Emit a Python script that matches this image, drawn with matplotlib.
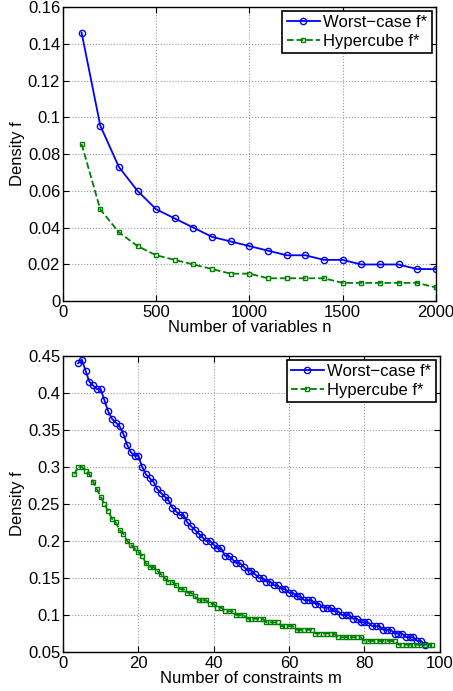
import matplotlib
matplotlib.use("Agg")
from matplotlib import pyplot as plt
import numpy as np

plt.rcParams['font.family'] = ['Liberation Sans', 'DejaVu Sans']
plt.rcParams['font.size'] = 12

# top panel: density vs number of variables
n_vals = list(range(100, 2001, 100))
worst_n = [0.146, 0.0955, 0.073, 0.060, 0.050, 0.045, 0.040, 0.035, 0.0325, 0.030,
           0.0275, 0.025, 0.025, 0.0225, 0.0225, 0.020, 0.020, 0.020, 0.0175, 0.0175]
cube_n = [0.0855, 0.050, 0.0375, 0.030, 0.025, 0.0225, 0.020, 0.0175, 0.015, 0.015,
          0.0125, 0.0125, 0.0125, 0.0125, 0.010, 0.010, 0.010, 0.010, 0.010, 0.0075]

# bottom panel: density vs number of constraints
m_worst = list(range(4, 97))
worst_m = [0.44, 0.445, 0.43, 0.415, 0.41, 0.405, 0.405, 0.39, 0.375, 0.365,
           0.36, 0.355, 0.345, 0.33, 0.32, 0.315, 0.315, 0.30, 0.29, 0.285,
           0.28, 0.27, 0.265, 0.26, 0.255, 0.245, 0.24, 0.235, 0.235, 0.225,
           0.22, 0.215, 0.21, 0.205, 0.20, 0.20, 0.195, 0.19, 0.19, 0.18,
           0.18, 0.175, 0.17, 0.17, 0.165, 0.16, 0.16, 0.155, 0.15, 0.15,
           0.145, 0.145, 0.14, 0.14, 0.135, 0.135, 0.13, 0.13, 0.125, 0.125,
           0.12, 0.12, 0.12, 0.115, 0.115, 0.11, 0.11, 0.11, 0.105, 0.105,
           0.10, 0.10, 0.10, 0.095, 0.095, 0.09, 0.09, 0.09, 0.085, 0.085,
           0.085, 0.08, 0.08, 0.08, 0.075, 0.075, 0.075, 0.07, 0.07, 0.07,
           0.065, 0.065, 0.06]
m_cube = list(range(3, 99))
cube_m = ([0.29, 0.30, 0.30, 0.295, 0.29, 0.28, 0.27, 0.26, 0.25, 0.24,
           0.23, 0.225, 0.215, 0.21, 0.20, 0.195, 0.19, 0.185, 0.18, 0.17,
           0.165, 0.165, 0.16, 0.155, 0.15, 0.145, 0.145, 0.14, 0.135, 0.135,
           0.13, 0.13, 0.125, 0.12, 0.12, 0.12, 0.115, 0.115, 0.11, 0.11,
           0.105, 0.105, 0.105, 0.10, 0.10, 0.10]
          + [0.095] * 5 + [0.09] * 4 + [0.085] * 4 + [0.08] * 5
          + [0.075] * 6 + [0.07] * 7 + [0.065] * 9 + [0.06] * 10)

blue = (0, 0, 1)
green = (0, 0.5, 0)

fig = plt.figure(figsize=(4.53, 6.91), dpi=100)
ax1 = fig.add_axes([0.139, 0.564, 0.823, 0.426])
ax2 = fig.add_axes([0.139, 0.0564, 0.832, 0.4286])


def style(ax):
    ax.grid(True, linestyle=':', color='0.6', linewidth=0.8)
    ax.tick_params(direction='in', top=True, right=True, length=4, labelsize=12)
    ax.tick_params(axis='x', pad=3)
    ax.tick_params(axis='y', pad=2)
    for s in ax.spines.values():
        s.set_linewidth(1.0)


def legend(ax):
    leg = ax.legend(loc='upper right', fancybox=False, edgecolor='k', framealpha=1,
                    borderaxespad=0.25, handlelength=2.0, handletextpad=0.2,
                    borderpad=0.25, labelspacing=0.2, fontsize=12)
    leg.get_frame().set_linewidth(1.2)


ax1.plot(n_vals, worst_n, '-o', color=blue, mfc='none', ms=4.5, lw=1.3, mew=1.0,
         label='Worst\u2212case f*')
ax1.plot(n_vals, cube_n, '--s', color=green, mfc='none', ms=3.5, lw=1.3, mew=1.0,
         label='Hypercube f*')
ax1.set_xlim(0, 2000)
ax1.set_ylim(0, 0.16)
ax1.set_xticks([0, 500, 1000, 1500, 2000])
ax1.set_yticks(np.arange(0, 0.161, 0.02))
ax1.set_yticklabels(['0', '0.02', '0.04', '0.06', '0.08', '0.1', '0.12', '0.14', '0.16'])
ax1.set_xlabel('Number of variables n', labelpad=0)
ax1.set_ylabel('Density f', labelpad=2)
style(ax1)
legend(ax1)

ax2.plot(m_worst, worst_m, '-o', color=blue, mfc='none', ms=4.5, lw=1.3, mew=1.0,
         label='Worst\u2212case f*')
ax2.plot(m_cube, cube_m, '--s', color=green, mfc='none', ms=3.5, lw=1.3, mew=1.0,
         label='Hypercube f*')
ax2.set_xlim(0, 100)
ax2.set_ylim(0.05, 0.45)
ax2.set_xticks([0, 20, 40, 60, 80, 100])
ax2.set_yticks(np.arange(0.05, 0.451, 0.05))
ax2.set_yticklabels(['0.05', '0.1', '0.15', '0.2', '0.25', '0.3', '0.35', '0.4', '0.45'])
ax2.set_xlabel('Number of constraints m', labelpad=0)
ax2.set_ylabel('Density f', labelpad=2)
style(ax2)
legend(ax2)

fig.savefig('out.png', dpi=100)
